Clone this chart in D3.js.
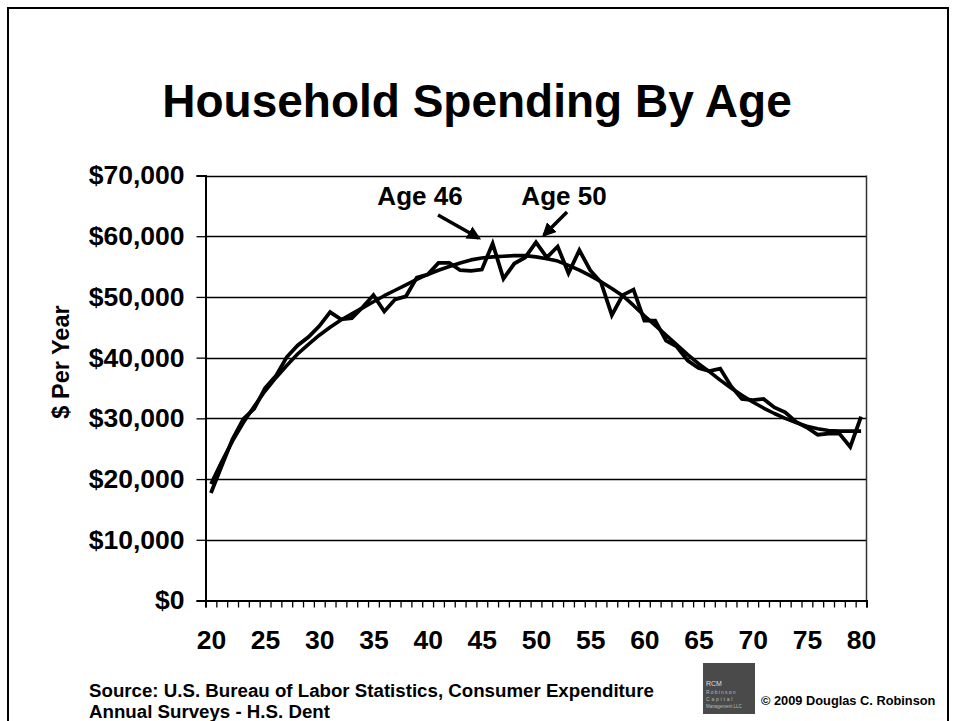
<!DOCTYPE html>
<html>
<head>
<meta charset="utf-8">
<script src="https://cdn.jsdelivr.net/npm/d3@7"></script>
<style>
  html, body { margin: 0; padding: 0; background: #fff; }
  svg text { font-family: "Liberation Sans", Arial, sans-serif; font-weight: bold; fill: #000; }
</style>
</head>
<body>
<svg id="chart" width="954" height="721"></svg>
<script>
// ---- data ----
const ages = d3.range(20, 81);
const spending = [17700, 22200, 26600, 29900, 31600, 35000, 37000, 40100, 42000, 43400,
  45200, 47500, 46300, 46500, 48300, 50300, 47600, 49600, 50100, 53200,
  53700, 55600, 55600, 54400, 54300, 54500, 58800, 53000, 55500, 56500,
  59000, 56500, 58300, 53900, 57700, 54400, 52400, 47000, 50300, 51200,
  46100, 46100, 42800, 41800, 39500, 38300, 37800, 38200, 35300, 33200,
  33000, 33200, 31800, 31000, 29400, 28500, 27300, 27500, 27500, 25300,
  30300];
const trend = [19200, 22900, 26300, 29300, 32000, 34500, 36700, 38700, 40600, 42200,
  43700, 45000, 46200, 47200, 48200, 49200, 50200, 51100, 52000, 52900,
  53700, 54400, 55000, 55600, 56100, 56400, 56600, 56700, 56800, 56800,
  56600, 56300, 55900, 55200, 54400, 53500, 52500, 51400, 50200, 48600,
  46900, 45300, 43700, 42100, 40500, 39000, 37700, 36300, 35000, 33800,
  32700, 31700, 30800, 30000, 29300, 28700, 28300, 28000, 27900, 27900,
  27900];
const yTicks = [0, 10000, 20000, 30000, 40000, 50000, 60000, 70000];
const xLabels = [20, 25, 30, 35, 40, 45, 50, 55, 60, 65, 70, 75, 80];
const annotations = [
  { text: "Age 46", age: 46 },
  { text: "Age 50", age: 50 }
];
const titleText = "Household Spending By Age";
const yTitle = "$ Per Year";
const sourceLines = ["Source:  U.S. Bureau of Labor Statistics, Consumer Expenditure",
                     "Annual Surveys - H.S. Dent"];
const copyright = "\u00A9 2009 Douglas C. Robinson";

// ---- layout ----
const svg = d3.select("#chart");
const L = 205.5, R = 866.5, T = 175.5, B = 600.5;

const x = d3.scaleLinear().domain([19.5, 80.5]).range([L, R]);
const y = d3.scaleLinear().domain([0, 70000]).range([B, T]);

// outer frame
svg.append("rect").attr("x", 8).attr("y", 8).attr("width", 940).attr("height", 740)
  .attr("fill", "none").attr("stroke", "#000").attr("stroke-width", 2);

// title
svg.append("text").attr("x", 477).attr("y", 117).attr("text-anchor", "middle")
  .style("font-size", "46px").text(titleText);

// gridlines
svg.append("g").selectAll("line").data(yTicks.filter(d => d > 0)).join("line")
  .attr("x1", L).attr("x2", R)
  .attr("y1", d => Math.round(y(d)) + 0.5).attr("y2", d => Math.round(y(d)) + 0.5)
  .attr("stroke", "#000").attr("stroke-width", 1.3);

// plot right border
svg.append("line").attr("x1", R).attr("x2", R).attr("y1", T).attr("y2", B)
  .attr("stroke", "#333").attr("stroke-width", 1.5);

// y axis
const yAxis = d3.axisLeft(y).tickValues(yTicks).tickSize(9).tickPadding(12)
  .tickFormat(d => "$" + d3.format(",")(d));
const gy = svg.append("g").attr("transform", `translate(${L},0)`).call(yAxis);
gy.select(".domain").attr("stroke", "#000").attr("stroke-width", 2);
gy.selectAll(".tick line").attr("stroke", "#000").attr("stroke-width", 1.3);
gy.selectAll(".tick text").style("font-size", "26.5px").attr("fill", "#000")
  .attr("font-family", null).attr("font-size", null);

// x axis: minor tick marks at category boundaries
const boundaries = d3.range(19.5, 81, 1);
const xTickAxis = d3.axisBottom(x).tickValues(boundaries).tickSize(7).tickFormat("");
const gx = svg.append("g").attr("transform", `translate(0,${B})`).call(xTickAxis);
gx.select(".domain").attr("stroke", "#000").attr("stroke-width", 2);
gx.selectAll(".tick line").attr("stroke", "#000").attr("stroke-width", 1.3);

// x labels
const xLabAxis = d3.axisBottom(x).tickValues(xLabels).tickSize(0).tickPadding(30)
  .tickFormat(d3.format("d"));
const gxl = svg.append("g").attr("transform", `translate(0,${B})`).call(xLabAxis);
gxl.select(".domain").remove();
gxl.selectAll(".tick text").style("font-size", "26.5px").attr("fill", "#000")
  .attr("font-family", null).attr("font-size", null);

// y title
svg.append("text").attr("transform", "translate(69,362) rotate(-90)")
  .attr("text-anchor", "middle").style("font-size", "23.5px").text(yTitle);

// lines
const line = d3.line().x((d, i) => x(ages[i])).y(d => y(d));
svg.append("path").datum(trend).attr("d", line)
  .attr("fill", "none").attr("stroke", "#000").attr("stroke-width", 3.6)
  .attr("stroke-linejoin", "round");
svg.append("path").datum(spending).attr("d", line)
  .attr("fill", "none").attr("stroke", "#000").attr("stroke-width", 3.8)
  .attr("stroke-linejoin", "miter");

// annotations
svg.append("defs").append("marker").attr("id", "arrow")
  .attr("viewBox", "0 0 10 10").attr("refX", 8).attr("refY", 5)
  .attr("markerWidth", 4).attr("markerHeight", 4).attr("orient", "auto")
  .append("path").attr("d", "M0,0 L10,5 L0,10 z").attr("fill", "#000");

svg.append("text").attr("x", 420).attr("y", 205).attr("text-anchor", "middle")
  .style("font-size", "26px").text(annotations[0].text);
svg.append("text").attr("x", 564).attr("y", 205).attr("text-anchor", "middle")
  .style("font-size", "26px").text(annotations[1].text);

svg.append("line").attr("x1", 438).attr("y1", 215).attr("x2", x(annotations[0].age) - 14).attr("y2", 238)
  .attr("stroke", "#000").attr("stroke-width", 3.5).attr("marker-end", "url(#arrow)");
svg.append("line").attr("x1", 567).attr("y1", 212).attr("x2", x(annotations[1].age) + 8).attr("y2", 235)
  .attr("stroke", "#000").attr("stroke-width", 3.5).attr("marker-end", "url(#arrow)");

// source text
svg.append("g").selectAll("text").data(sourceLines).join("text")
  .attr("x", 89).attr("y", (d, i) => 697 + i * 21)
  .style("font-size", "18.7px").text(d => d);

// logo
const logo = svg.append("g").attr("transform", "translate(703,663)");
logo.append("rect").attr("width", 52).attr("height", 51).attr("fill", "#4a4a4a");
logo.append("text").attr("x", 3).attr("y", 23).style("font-size", "7px")
  .style("font-weight", "normal").style("fill", "#ddd").text("RCM");
logo.append("text").attr("x", 3).attr("y", 31).style("font-size", "5px")
  .style("font-weight", "normal").style("fill", "#bbb").attr("letter-spacing", "1.2").text("Robinson");
logo.append("text").attr("x", 3).attr("y", 38).style("font-size", "5px")
  .style("font-weight", "normal").style("fill", "#bbb").attr("letter-spacing", "1.8").text("Capital");
logo.append("text").attr("x", 3).attr("y", 45).style("font-size", "4.5px")
  .style("font-weight", "normal").style("fill", "#bbb").text("Management LLC");

// copyright
svg.append("text").attr("x", 761).attr("y", 705).style("font-size", "12.8px").text(copyright);
</script>
</body>
</html>
